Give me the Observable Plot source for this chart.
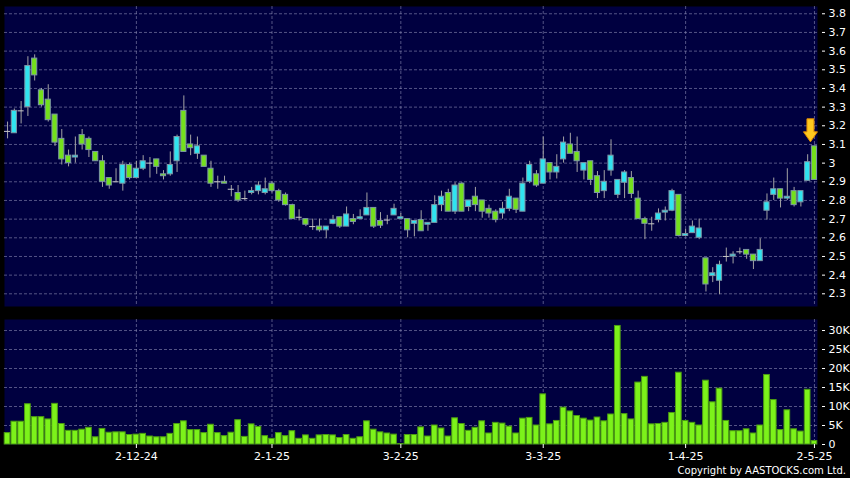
<!DOCTYPE html>
<html><head><meta charset="utf-8">
<script src="https://cdn.jsdelivr.net/npm/d3@7"></script>
<script src="https://cdn.jsdelivr.net/npm/@observablehq/plot@0.6"></script>
<style>
html,body{margin:0;padding:0;background:#000;}
#chart{position:relative;width:850px;height:478px;background:#000;overflow:hidden;}
#chart svg{display:block;}
#copy{position:absolute;right:4px;top:465px;color:#fff;font-family:"DejaVu Sans",sans-serif;font-size:10px;line-height:12px;white-space:nowrap;}
</style></head><body>
<div id="chart"></div>
<script>
// Daily OHLC (index 0 = first session shown, 119 = 2-5-25)
const opens = [3.17,3.16,3.28,3.30,3.56,3.39,3.34,3.26,3.13,3.04,
3.03,3.15,3.13,3.06,3.01,2.92,2.90,2.89,2.99,2.92,
2.97,3.00,3.02,2.94,2.94,3.01,3.28,3.10,3.05,3.04,
2.97,2.90,2.90,2.86,2.84,2.81,2.84,2.85,2.84,2.89,
2.85,2.83,2.775,2.71,2.70,2.66,2.66,2.64,2.675,2.71,
2.66,2.70,2.70,2.72,2.76,2.69,2.695,2.72,2.70,2.70,
2.675,2.695,2.67,2.68,2.775,2.84,2.74,2.89,2.765,2.82,
2.80,2.755,2.74,2.73,2.755,2.81,2.74,2.90,2.94,2.89,
3.00,2.95,3.02,3.10,3.06,2.96,3.01,2.93,2.85,2.96,
2.83,2.895,2.92,2.81,2.70,2.675,2.695,2.735,2.745,2.83,
2.61,2.625,2.60,2.49,2.395,2.37,2.50,2.50,2.525,2.535,
2.51,2.475,2.745,2.83,2.86,2.81,2.85,2.79,2.905,3.09];
const highs = [3.22,3.29,3.33,3.57,3.58,3.40,3.42,3.26,3.18,3.07,
3.14,3.18,3.14,3.06,3.04,2.92,2.97,3.01,3.00,3.01,
3.04,3.03,3.02,2.96,3.06,3.15,3.36,3.15,3.14,3.04,
3.01,2.93,2.93,2.88,2.88,2.85,2.87,2.90,2.92,2.90,
2.86,2.84,2.78,2.75,2.70,2.70,2.70,2.66,2.72,2.71,
2.765,2.725,2.75,2.84,2.76,2.735,2.72,2.78,2.73,2.70,
2.69,2.745,2.68,2.825,2.85,2.86,2.895,2.895,2.80,2.87,
2.80,2.775,2.75,2.79,2.86,2.81,2.92,3.01,2.96,3.14,
3.00,3.045,3.14,3.16,3.14,3.00,3.01,2.955,2.96,3.125,
2.91,2.96,2.955,2.85,2.71,2.71,2.755,2.765,2.86,2.83,
2.645,2.69,2.70,2.49,2.44,2.475,2.545,2.525,2.545,2.535,
2.51,2.595,2.835,2.92,2.86,2.97,2.87,2.85,3.045,3.09];
const lows = [3.13,3.16,3.21,3.25,3.44,3.30,3.22,3.09,2.99,2.98,
3.00,3.07,3.03,3.01,2.87,2.86,2.90,2.85,2.91,2.92,
2.96,2.92,2.94,2.91,2.93,2.95,3.06,3.04,3.02,2.98,
2.87,2.86,2.89,2.82,2.79,2.80,2.83,2.83,2.83,2.84,
2.79,2.77,2.70,2.69,2.66,2.64,2.63,2.595,2.67,2.65,
2.66,2.67,2.70,2.72,2.65,2.65,2.67,2.72,2.70,2.60,
2.605,2.635,2.635,2.68,2.74,2.74,2.725,2.74,2.74,2.74,
2.705,2.705,2.68,2.70,2.74,2.73,2.74,2.89,2.87,2.89,
2.91,2.915,3.00,3.05,2.95,2.91,2.88,2.81,2.81,2.93,
2.81,2.81,2.81,2.70,2.59,2.635,2.68,2.69,2.74,2.605,
2.61,2.625,2.59,2.31,2.36,2.295,2.47,2.46,2.51,2.485,
2.43,2.475,2.695,2.80,2.76,2.80,2.765,2.765,2.905,2.91];
const closes = [3.17,3.28,3.28,3.52,3.47,3.31,3.23,3.11,3.02,3.00,
3.04,3.10,3.07,3.01,2.90,2.88,2.90,2.99,2.92,2.97,
3.01,3.00,2.98,2.93,2.99,3.14,3.06,3.08,3.09,2.98,
2.89,2.90,2.89,2.86,2.80,2.81,2.85,2.88,2.86,2.85,
2.80,2.775,2.70,2.71,2.67,2.66,2.64,2.66,2.695,2.66,
2.725,2.685,2.71,2.76,2.66,2.665,2.695,2.755,2.71,2.64,
2.69,2.635,2.68,2.775,2.82,2.74,2.88,2.74,2.80,2.775,
2.74,2.73,2.695,2.755,2.82,2.75,2.89,2.99,2.88,3.02,
2.95,2.98,3.11,3.05,3.01,3.00,2.91,2.84,2.90,3.04,
2.91,2.95,2.835,2.70,2.675,2.675,2.73,2.745,2.85,2.61,
2.62,2.66,2.65,2.35,2.41,2.455,2.50,2.51,2.525,2.51,
2.475,2.535,2.79,2.86,2.81,2.82,2.775,2.85,3.005,2.91];
// Daily volume, thousands of shares
const volumesK = [3.0,6.0,6.0,10.6,7.2,7.2,6.6,10.7,5.4,3.6,
3.6,3.9,4.4,1.9,4.1,3.1,3.2,3.2,2.5,2.6,
2.8,2.1,1.9,1.9,2.8,5.4,6.1,3.8,3.8,3.0,
5.2,3.0,2.2,3.1,6.4,2.0,5.3,4.6,2.2,1.5,
3.0,2.2,3.5,1.5,2.4,1.5,2.4,2.5,2.4,1.7,
2.5,1.5,1.9,6.1,3.9,3.2,2.9,2.6,0.1,2.5,
2.5,4.5,2.1,5.0,4.2,2.1,6.9,5.4,3.6,4.4,
6.1,2.9,5.7,5.5,4.7,2.9,6.8,7.0,5.0,13.2,
5.3,6.2,9.7,8.7,7.5,6.8,6.3,7.1,6.1,7.9,
31.2,8.0,6.6,16.3,17.8,5.3,5.4,5.7,8.3,18.9,
6.2,5.7,5.0,16.8,11.1,14.7,6.2,3.5,3.5,4.0,
2.9,5.0,18.3,11.7,3.8,9.0,4.0,3.4,14.4,0.9];
const priceTicks = [2.3,2.4,2.5,2.6,2.7,2.8,2.9,3.0,3.1,3.2,3.3,3.4,3.5,3.6,3.7,3.8];
const volumeTicks = [0,5000,10000,15000,20000,25000,30000];
const dateLabels = ["2-12-24","2-1-25","3-2-25","3-3-25","1-4-25","2-5-25"];
const dateIndex = [19,39,58,79,100,119];

const candles = opens.map((o,i)=>({i, open:o, high:highs[i], low:lows[i], close:closes[i], volume:volumesK[i]*1000}));
const bodies = candles.filter(d=>d.open!==d.close);
const dojis = candles.filter(d=>d.open===d.close);
const last = candles[candles.length-1];

const UP="#30e4f0", DOWN="#74e01c", PANEL="#000040";
const gridStyle = {stroke:"#8c8cb4", strokeOpacity:0.6, strokeDasharray:"3,2", strokeWidth:1};
const xDomain = [-0.45, 119.45];
const font = {background:"#000", color:"#fff", fontFamily:"'DejaVu Sans', sans-serif", fontSize:"11px", overflow:"visible"};

const arrowSymbol = {draw(ctx){
  ctx.moveTo(-3.5,-11.5); ctx.lineTo(3.5,-11.5); ctx.lineTo(3.5,1.5); ctx.lineTo(7,1.5);
  ctx.lineTo(0,11.5); ctx.lineTo(-7,1.5); ctx.lineTo(-3.5,1.5); ctx.closePath();
}};

const price = Plot.plot({
  width:850, height:312, marginLeft:4, marginRight:33, marginTop:6, marginBottom:6,
  style:font,
  x:{domain:xDomain, axis:null},
  y:{domain:[2.232,3.839], axis:null},
  marks:[
    Plot.frame({fill:PANEL, stroke:"none"}),
    Plot.gridY(priceTicks, gridStyle),
    Plot.gridX(dateIndex, gridStyle),
    Plot.axisY(priceTicks, {anchor:"right", dx:4, tickSize:3, tickPadding:4, color:"#fff", label:null,
      tickFormat:d=>String(+d.toFixed(1))}),
    Plot.ruleX(candles, {x:"i", y1:"low", y2:"high", stroke:"#a4a4a4", strokeWidth:1}),
    Plot.rect(bodies, {x1:d=>d.i-0.38, x2:d=>d.i+0.38, y1:"open", y2:"close",
      fill:d=>d.close>d.open?UP:DOWN, stroke:"#7d97a6", strokeWidth:1}),
    Plot.ruleY(dojis, {y:"open", x1:d=>d.i-0.45, x2:d=>d.i+0.45, stroke:"#c8c8c8", strokeWidth:1}),
    Plot.dot([last], {x:"i", y:"high", symbol:arrowSymbol, fill:"#ffc81e", stroke:"#e08a00", strokeWidth:1, dx:-4, dy:-16})
  ]
});

const vol = Plot.plot({
  width:850, height:166, marginLeft:4, marginRight:33, marginTop:7, marginBottom:34,
  style:font,
  x:{domain:xDomain, axis:null},
  y:{domain:[0,32900], axis:null},
  marks:[
    Plot.frame({fill:PANEL, stroke:"none"}),
    Plot.gridY(volumeTicks.filter(v=>v>0), gridStyle),
    Plot.gridX(dateIndex, gridStyle),
    Plot.rect(candles, {x1:d=>d.i-0.42, x2:d=>d.i+0.42, y1:0, y2:"volume", fill:"#7cf21a", stroke:"#4c9c12", strokeWidth:1}),
    Plot.axisY(volumeTicks, {anchor:"right", dx:4, tickSize:3, tickPadding:4, color:"#fff", label:null,
      tickFormat:v=>v===0?"0":(v/1000)+"K"}),
    Plot.axisX(dateIndex, {anchor:"bottom", tickSize:4, tickPadding:4, color:"#fff", label:null,
      tickFormat:d=>dateLabels[dateIndex.indexOf(d)]})
  ]
});

const chart = document.getElementById("chart");
chart.append(price, vol);
const copy = document.createElement("div");
copy.id = "copy";
copy.textContent = "Copyright by AASTOCKS.com Ltd.";
chart.append(copy);
</script>
</body></html>
